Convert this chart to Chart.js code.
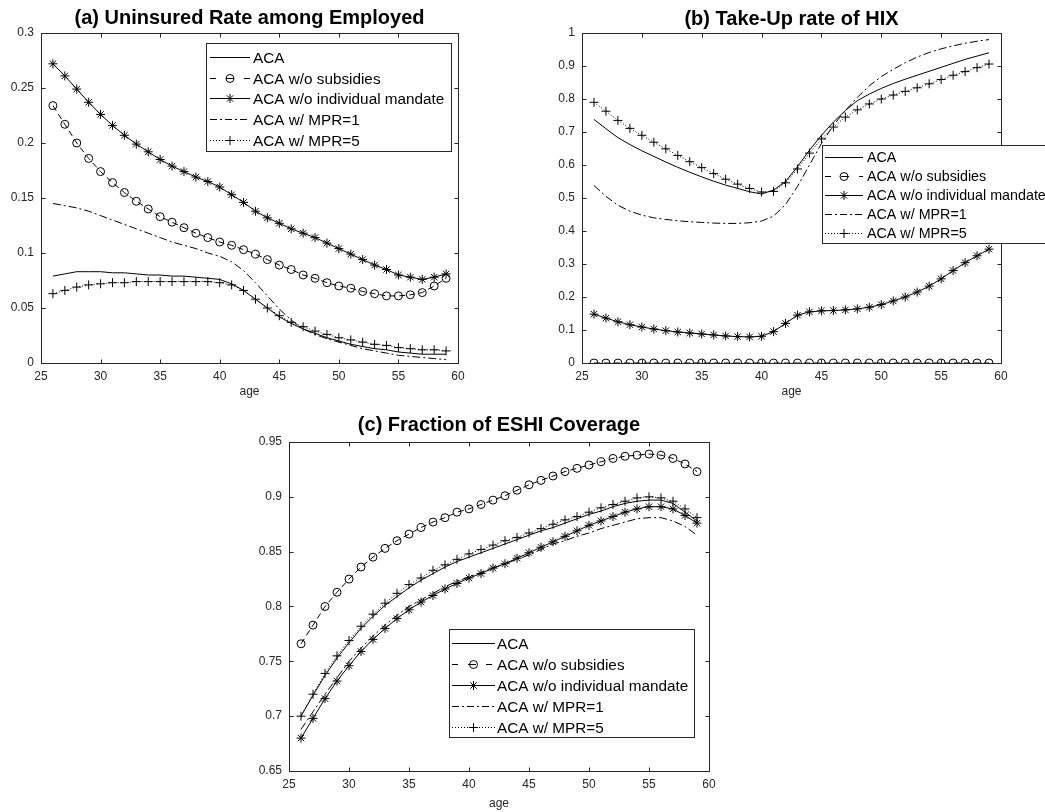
<!DOCTYPE html>
<html>
<head>
<meta charset="utf-8">
<script src="https://cdn.jsdelivr.net/npm/chart.js@4.4.1/dist/chart.umd.min.js"></script>
<style>
  body { margin: 0; background: #fff; width: 1045px; height: 812px; overflow: hidden; position: relative; }
  .panel { position: absolute; }
</style>
</head>
<body>
<div class="panel" style="left:0;top:0;width:480px;height:400px"><canvas id="chartA"></canvas></div>
<div class="panel" style="left:520px;top:0;width:525px;height:400px"><canvas id="chartB"></canvas></div>
<div class="panel" style="left:230px;top:400px;width:520px;height:412px"><canvas id="chartC"></canvas></div>
<script>
// ages on the x axis
const ages = [26,27,28,29,30,31,32,33,34,35,36,37,38,39,40,41,42,43,44,45,46,47,48,49,50,51,52,53,54,55,56,57,58,59];
const seriesNames = ['ACA', 'ACA w/o subsidies', 'ACA w/o individual mandate', 'ACA w/ MPR=1', 'ACA w/ MPR=5'];
const xTicks = [25, 30, 35, 40, 45, 50, 55, 60];

// (a) Uninsured rate among employed
const uninsAca = [0.079,0.081,0.083,0.083,0.083,0.082,0.082,0.081,0.080,0.080,0.079,0.079,0.078,0.077,0.076,0.072,0.066,0.058,0.050,0.042,0.036,0.031,0.027,0.023,0.020,0.017,0.015,0.013,0.012,0.010,0.009,0.008,0.008,0.008];
const uninsNoSub = [0.234,0.217,0.200,0.186,0.174,0.164,0.155,0.147,0.140,0.133,0.128,0.123,0.118,0.114,0.110,0.107,0.103,0.099,0.094,0.089,0.085,0.080,0.077,0.073,0.070,0.068,0.065,0.063,0.061,0.061,0.062,0.064,0.070,0.077];
const uninsNoMandate = [0.272,0.261,0.249,0.237,0.226,0.216,0.207,0.199,0.192,0.185,0.179,0.174,0.169,0.165,0.160,0.153,0.146,0.138,0.132,0.127,0.122,0.118,0.114,0.109,0.104,0.099,0.094,0.089,0.085,0.080,0.078,0.076,0.078,0.081];
const uninsMpr1 = [0.145,0.143,0.141,0.138,0.134,0.130,0.126,0.122,0.118,0.114,0.110,0.107,0.104,0.100,0.097,0.092,0.084,0.073,0.061,0.049,0.039,0.031,0.026,0.022,0.019,0.016,0.013,0.011,0.009,0.007,0.006,0.005,0.004,0.003];
const uninsMpr5 = [0.063,0.066,0.069,0.071,0.072,0.073,0.073,0.074,0.074,0.074,0.074,0.074,0.074,0.074,0.073,0.071,0.066,0.058,0.050,0.043,0.037,0.033,0.029,0.026,0.023,0.021,0.019,0.017,0.016,0.014,0.013,0.012,0.012,0.011];
const yTicksA = [0, 0.05, 0.1, 0.15, 0.2, 0.25, 0.3];

// (b) Take-up rate of HIX
const hixAca = [0.738,0.710,0.683,0.662,0.643,0.626,0.609,0.593,0.578,0.564,0.551,0.539,0.529,0.519,0.512,0.524,0.550,0.595,0.645,0.690,0.730,0.765,0.795,0.815,0.832,0.847,0.860,0.872,0.884,0.896,0.908,0.920,0.930,0.940];
const hixNoSub = [0,0,0,0,0,0,0,0,0,0,0,0,0,0,0,0,0,0,0,0,0,0,0,0,0,0,0,0,0,0,0,0,0,0];
const hixNoMandate = [0.148,0.136,0.125,0.116,0.109,0.103,0.098,0.094,0.091,0.088,0.085,0.082,0.080,0.079,0.081,0.095,0.120,0.145,0.155,0.158,0.159,0.161,0.164,0.169,0.177,0.188,0.200,0.215,0.233,0.255,0.280,0.304,0.325,0.345];
const hixMpr1 = [0.538,0.505,0.478,0.460,0.448,0.440,0.435,0.431,0.428,0.426,0.424,0.423,0.423,0.425,0.430,0.445,0.480,0.535,0.600,0.665,0.720,0.765,0.805,0.840,0.868,0.890,0.910,0.927,0.941,0.952,0.961,0.969,0.975,0.980];
const hixMpr5 = [0.790,0.763,0.735,0.711,0.690,0.669,0.649,0.629,0.610,0.592,0.574,0.557,0.542,0.529,0.518,0.520,0.546,0.588,0.636,0.679,0.715,0.745,0.767,0.785,0.800,0.812,0.823,0.834,0.846,0.859,0.872,0.883,0.895,0.906];
const yTicksB = [0, 0.1, 0.2, 0.3, 0.4, 0.5, 0.6, 0.7, 0.8, 0.9, 1];

// (c) Fraction of ESHI coverage
const eshiAca = [0.700,0.719,0.737,0.753,0.767,0.780,0.791,0.801,0.809,0.817,0.824,0.830,0.836,0.841,0.845,0.849,0.853,0.857,0.861,0.865,0.869,0.872,0.876,0.880,0.884,0.887,0.891,0.894,0.896,0.897,0.897,0.894,0.886,0.878];
const eshiNoSub = [0.766,0.783,0.800,0.813,0.825,0.836,0.845,0.853,0.860,0.866,0.872,0.877,0.881,0.886,0.889,0.893,0.897,0.901,0.906,0.911,0.915,0.919,0.923,0.926,0.929,0.932,0.935,0.937,0.938,0.939,0.938,0.935,0.930,0.923];
const eshiNoMandate = [0.680,0.698,0.716,0.732,0.746,0.759,0.770,0.780,0.789,0.797,0.804,0.810,0.816,0.821,0.826,0.830,0.835,0.839,0.844,0.849,0.854,0.859,0.864,0.869,0.874,0.878,0.882,0.886,0.889,0.891,0.891,0.889,0.883,0.876];
const eshiMpr1 = [0.688,0.704,0.720,0.735,0.750,0.762,0.773,0.783,0.792,0.800,0.806,0.812,0.818,0.823,0.827,0.831,0.835,0.839,0.843,0.847,0.852,0.857,0.860,0.864,0.867,0.871,0.874,0.877,0.880,0.881,0.881,0.878,0.873,0.865];
const eshiMpr5 = [0.700,0.720,0.739,0.755,0.769,0.782,0.793,0.803,0.812,0.820,0.826,0.833,0.838,0.843,0.848,0.852,0.856,0.860,0.863,0.867,0.871,0.875,0.879,0.882,0.886,0.890,0.893,0.896,0.899,0.900,0.899,0.896,0.889,0.881];
const yTicksC = [0.65, 0.7, 0.75, 0.8, 0.85, 0.9, 0.95];

const axisColor = '#262626';
const fontFam = '"Liberation Sans", Arial, Helvetica, sans-serif';

// matlab-ish line styles, one per series (legendDash = how the legend sample looks)
const styles = [
  { dash: [], legendDash: [], marker: null, r: 0 },
  { dash: [6, 4], legendDash: [6, 10, 8, 10], marker: 'circle', r: 4 },
  { dash: [], legendDash: [], marker: 'star', r: 4.5 },
  { dash: [8, 3, 2, 3], legendDash: [7, 3, 2, 3], marker: null, r: 0 },
  { dash: [1, 2], legendDash: [1, 2], marker: 'cross', r: 4.5 }
];

function drawMarker(ctx, style, r, x, y) {
  ctx.beginPath();
  if (style === 'circle') {
    ctx.arc(x, y, r, 0, Math.PI * 2);
  } else {
    ctx.moveTo(x - r, y); ctx.lineTo(x + r, y);
    ctx.moveTo(x, y - r); ctx.lineTo(x, y + r);
    if (style === 'star') {
      const d = r * Math.SQRT1_2;
      ctx.moveTo(x - d, y - d); ctx.lineTo(x + d, y + d);
      ctx.moveTo(x - d, y + d); ctx.lineTo(x + d, y - d);
    }
  }
  ctx.stroke();
}

// box, inward ticks, title and legend
const decor = {
  id: 'decor',
  afterDraw(chart, args, o) {
    const { ctx, chartArea: a, scales: { x, y } } = chart;
    ctx.save();
    ctx.strokeStyle = axisColor;
    ctx.lineWidth = 1;
    const L = Math.round(a.left) + 0.5, R = Math.round(a.right) + 0.5;
    const T = Math.round(a.top) + 0.5, B = Math.round(a.bottom) + 0.5;
    ctx.strokeRect(L, T, R - L, B - T);
    ctx.beginPath();
    x.ticks.forEach(t => {
      const px = Math.round(x.getPixelForValue(t.value)) + 0.5;
      ctx.moveTo(px, B); ctx.lineTo(px, B - 4);
      ctx.moveTo(px, T); ctx.lineTo(px, T + 4);
    });
    y.ticks.forEach(t => {
      const py = Math.round(y.getPixelForValue(t.value)) + 0.5;
      ctx.moveTo(L, py); ctx.lineTo(L + 4, py);
      ctx.moveTo(R, py); ctx.lineTo(R - 4, py);
    });
    ctx.stroke();

    // title
    ctx.fillStyle = '#000';
    ctx.font = 'bold 20px ' + fontFam;
    ctx.textAlign = 'center';
    ctx.textBaseline = 'middle';
    ctx.fillText(o.title, (a.left + a.right) / 2, o.titleY);

    // legend
    const lg = o.legend;
    ctx.fillStyle = '#fff';
    ctx.fillRect(lg.left, lg.top, lg.right - lg.left, lg.bottom - lg.top);
    ctx.strokeStyle = axisColor;
    ctx.strokeRect(lg.left + 0.5, lg.top + 0.5, lg.right - lg.left, lg.bottom - lg.top);
    ctx.font = lg.font + 'px ' + fontFam;
    ctx.textAlign = 'left';
    chart.data.datasets.forEach((ds, i) => {
      const yy = Math.round(lg.firstY + i * lg.rowH) + 0.5;
      const st = styles[i];
      ctx.strokeStyle = '#000';
      ctx.setLineDash(st.legendDash);
      ctx.beginPath();
      ctx.moveTo(lg.x0, yy); ctx.lineTo(lg.x1, yy);
      ctx.stroke();
      ctx.setLineDash([]);
      if (st.marker) drawMarker(ctx, st.marker, st.r, (lg.x0 + lg.x1) / 2, yy);
      ctx.fillStyle = '#000';
      ctx.fillText(ds.label, lg.textX, yy + 1);
    });
    ctx.restore();
  }
};

function makeSets(list) {
  return list.map((vals, i) => ({
    label: seriesNames[i],
    data: ages.map((age, k) => ({ x: age, y: vals[k] })),
    borderColor: '#000',
    borderWidth: 1,
    borderDash: styles[i].dash,
    pointStyle: styles[i].marker || 'circle',
    pointRadius: styles[i].r,
    pointHoverRadius: styles[i].r,
    pointBorderColor: '#000',
    pointBorderWidth: 1,
    pointBackgroundColor: 'rgba(0,0,0,0)',
    tension: 0,
    fill: false
  }));
}

function makeChart(id, W, H, area, sets, yTicks, decorOpts) {
  const tickFont = { family: fontFam, size: 12 };
  return new Chart(document.getElementById(id), {
    type: 'line',
    data: { datasets: makeSets(sets) },
    options: {
      responsive: true,
      maintainAspectRatio: false,
      animation: false,
      events: [],
      layout: { padding: { top: area.top, right: W - area.right, left: 0, bottom: 0 } },
      plugins: { legend: { display: false }, tooltip: { enabled: false }, decor: decorOpts },
      scales: {
        x: {
          type: 'linear',
          min: 25, max: 60,
          afterBuildTicks: s => { s.ticks = xTicks.map(v => ({ value: v })); },
          afterFit: s => { s.height = H - area.bottom; },
          grid: { display: false, drawTicks: false },
          border: { display: false },
          ticks: { color: axisColor, font: tickFont, padding: 6, maxRotation: 0, autoSkip: false, callback: v => String(v) },
          title: { display: true, text: 'age', color: axisColor, font: tickFont, padding: { top: 0, bottom: 1 } }
        },
        y: {
          min: yTicks[0], max: yTicks[yTicks.length - 1],
          afterBuildTicks: s => { s.ticks = yTicks.map(v => ({ value: v })); },
          afterFit: s => { s.width = area.left; },
          grid: { display: false, drawTicks: false },
          border: { display: false },
          ticks: { color: axisColor, font: tickFont, padding: 7, autoSkip: false, callback: v => String(v) }
        }
      }
    },
    plugins: [decor]
  });
}

makeChart('chartA', 480, 400, { left: 41, top: 33, right: 458, bottom: 363 },
  [uninsAca, uninsNoSub, uninsNoMandate, uninsMpr1, uninsMpr5], yTicksA,
  { title: '(a) Uninsured Rate among Employed', titleY: 18,
    legend: { left: 206, top: 43, right: 451, bottom: 151, firstY: 57, rowH: 20.7, x0: 210, x1: 250, textX: 253, font: 15.3 } });

makeChart('chartB', 525, 400, { left: 62, top: 33, right: 481, bottom: 363 },
  [hixAca, hixNoSub, hixNoMandate, hixMpr1, hixMpr5], yTicksB,
  { title: '(b) Take-Up rate of HIX', titleY: 19,
    legend: { left: 302, top: 145, right: 540, bottom: 243, firstY: 157, rowH: 19, x0: 305, x1: 343, textX: 347, font: 14.3 } });

makeChart('chartC', 520, 412, { left: 59, top: 42, right: 479, bottom: 371 },
  [eshiAca, eshiNoSub, eshiNoMandate, eshiMpr1, eshiMpr5], yTicksC,
  { title: '(c) Fraction of ESHI Coverage', titleY: 25,
    legend: { left: 219, top: 229, right: 464, bottom: 337, firstY: 243, rowH: 21, x0: 222, x1: 265, textX: 267, font: 15.3 } });
</script>
</body>
</html>
